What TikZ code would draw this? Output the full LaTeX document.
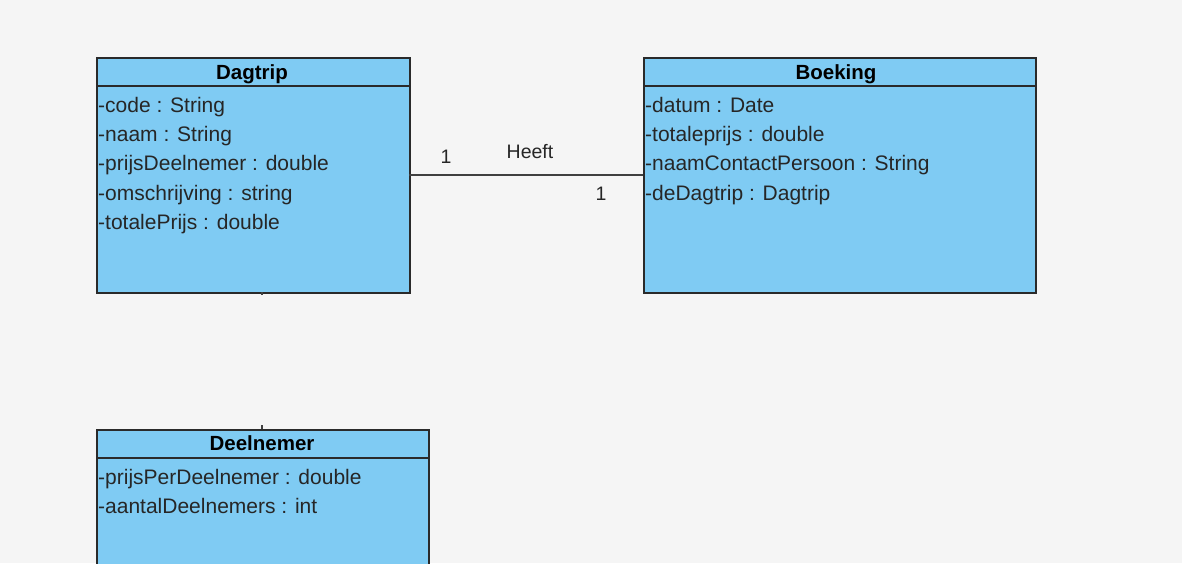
\documentclass[tikz,border=0pt]{standalone}
\usepackage{fontspec}
\setmainfont{Liberation Sans}
\definecolor{bg}{HTML}{F5F5F5}
\definecolor{clsfill}{HTML}{7FCBF3}
\definecolor{clsline}{HTML}{2A2A2A}
\begin{document}
\begin{tikzpicture}[x=1pt,y=-1pt,
  classbox/.style={draw=clsline, line width=1.6pt, fill=clsfill, anchor=north west, inner sep=0pt, rectangle},
  attr/.style={anchor=base west, inner sep=0pt, font=\fontsize{21}{24}\selectfont, text=black!85},
  hdr/.style={anchor=base, inner sep=0pt, font=\fontsize{20.5}{24}\selectfont\bfseries},
  lbl/.style={anchor=base, inner sep=0pt, font=\fontsize{19.5}{24}\selectfont, text=black!85},
  assoc/.style={draw=black!75, line width=1.2pt}]
\useasboundingbox (0,0) rectangle (1182,563);
\clip (0,0) rectangle (1182,563);
\fill[bg] (0,0) rectangle (1182,563);

% Dagtrip
\node[classbox, minimum width=313pt, minimum height=235pt] (dag) at (96,57) {};
\draw[clsline, line width=1.5pt] (96,86) -- (409,86);
\node[hdr] (daghdr) at (252,79) {Dagtrip};
\node[attr] (d1) at (98,112) {-code : String};
\node[attr] (d2) at (98,141) {-naam : String};
\node[attr] (d3) at (98,170) {-prijsDeelnemer : double};
\node[attr] (d4) at (98,200) {-omschrijving : string};
\node[attr] (d5) at (98,229) {-totalePrijs : double};

% Boeking
\node[classbox, minimum width=392pt, minimum height=235pt] (boe) at (643,57) {};
\draw[clsline, line width=1.5pt] (643,86) -- (1035,86);
\node[hdr] (boehdr) at (836,79) {Boeking};
\node[attr] (b1) at (645,112) {-datum : Date};
\node[attr] (b2) at (645,141) {-totaleprijs : double};
\node[attr] (b3) at (645,170) {-naamContactPersoon : String};
\node[attr] (b4) at (645,200) {-deDagtrip : Dagtrip};

% Deelnemer
\node[classbox, minimum width=332pt, minimum height=160pt] (dee) at (96,429) {};
\draw[clsline, line width=1.5pt] (96,458) -- (428,458);
\node[hdr] (deehdr) at (262,450) {Deelnemer};
\node[attr] (e1) at (98,484) {-prijsPerDeelnemer : double};
\node[attr] (e2) at (98,513) {-aantalDeelnemers : int};

% association
\coordinate (aL) at (409,175);
\coordinate (aR) at (643,175);
\draw[assoc] (aL) -- (aR);
\node[lbl] (m1) at (446,163) {1};
\node[lbl] (hf) at (530,158) {Heeft};
\node[lbl] (m2) at (601,200) {1};

% small stubs
\coordinate (s1a) at (262,292);
\coordinate (s1b) at (262,295);
\coordinate (s2a) at (262,425);
\coordinate (s2b) at (262,429);
\draw[black!75, line width=1.2pt] (s1a) -- (s1b);
\draw[black!75, line width=1.2pt] (s2a) -- (s2b);
\end{tikzpicture}
\end{document}
